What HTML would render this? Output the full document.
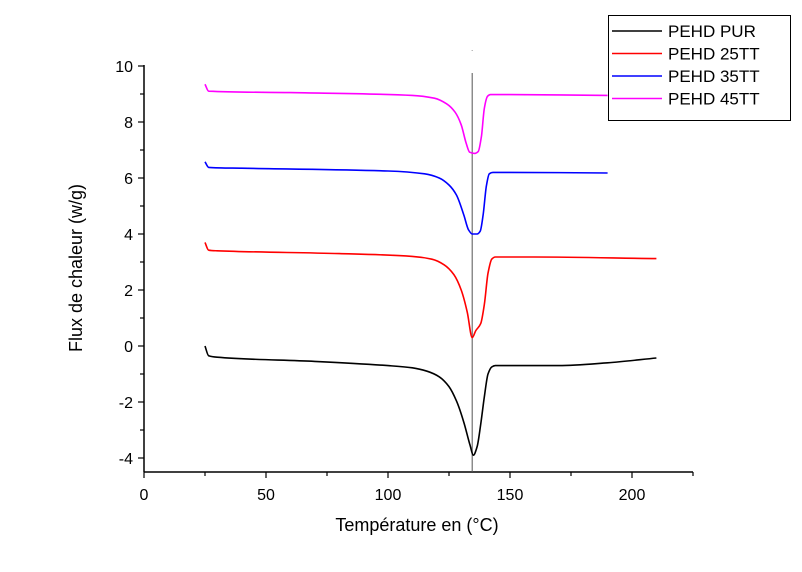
<!DOCTYPE html>
<html><head><meta charset="utf-8"><style>
body{margin:0;background:#fff}
svg text{font-family:"Liberation Sans",Arial,sans-serif}
</style></head><body>
<svg id="chart" width="802" height="567">
<g id="axes"></g><g id="series"></g><g id="legend"></g>
</svg>
<script>
const xTicks=[0,50,100,150,200];
const yTicks=[-4,-2,0,2,4,6,8,10];
const names=["PEHD PUR","PEHD 25TT","PEHD 35TT","PEHD 45TT"];
const colors=["#000000","#ff0000","#0000ff","#ff00ff"];
const tPur=[25,26.5,30,70,100,110,116,121,125,128,131,133.5,135,136.5,138,139.5,141,142.5,144,150,170,190,210];
const vPur=[0,-0.35,-0.4,-0.55,-0.7,-0.78,-0.9,-1.1,-1.45,-1.95,-2.7,-3.5,-3.9,-3.6,-2.8,-1.8,-1.0,-0.75,-0.7,-0.7,-0.7,-0.6,-0.43];
const t25=[25,26.5,30,80,110,118,123,127,130,132.5,134.5,136,138,139.5,141,142.5,144,160,210];
const v25=[3.7,3.42,3.4,3.3,3.2,3.1,2.9,2.55,2.0,1.2,0.3,0.55,0.8,1.5,2.6,3.1,3.18,3.18,3.12];
const t35=[25,26.5,40,100,115,121,125,128,131,133,134.5,136.5,137.8,139,140.3,141.5,143,150,190];
const v35=[6.58,6.38,6.35,6.25,6.15,6.0,5.75,5.4,4.7,4.15,4.0,4.0,4.1,4.7,5.7,6.15,6.2,6.2,6.18];
const t45=[25,26.5,60,110,119,124,127.5,130,132,133.5,135.5,137,138.3,139.5,140.8,142,150,190];
const v45=[9.35,9.1,9.05,8.95,8.85,8.65,8.35,7.9,7.25,6.92,6.88,6.95,7.5,8.5,8.92,8.98,8.98,8.95];
const refT=134.5;

const X=t=>144+t*2.44, Y=v=>346-v*28;
const NS="http://www.w3.org/2000/svg";
function mk(tag,attrs,parent,txt){const e=document.createElementNS(NS,tag);for(const k in attrs)e.setAttribute(k,attrs[k]);if(txt!==undefined)e.textContent=txt;parent.appendChild(e);return e;}
const ax=document.getElementById('axes');
let e=mk('line',{x1:144,y1:472,x2:693,y2:472,stroke:'#000','stroke-width':1.5},ax);


e=mk('line',{x1:144,y1:Y(10)-1,x2:144,y2:472,stroke:'#000','stroke-width':1.5},ax);


for(let t=0;t<=225;t+=25){mk('line',{x1:X(t),y1:472,x2:X(t),y2:t%50==0?478:476,stroke:'#000','stroke-width':1.2},ax);}
xTicks.forEach(t=>{e=mk('text',{x:X(t),y:500,'font-size':16,'text-anchor':'middle'},ax,t);

});
for(let v=-4;v<=10;v+=1){mk('line',{x1:144,y1:Y(v),x2:v%2==0?138:140,y2:Y(v),stroke:'#000','stroke-width':1.2},ax);}
yTicks.forEach(v=>{e=mk('text',{x:133,y:Y(v)+6,'font-size':16,'text-anchor':'end'},ax,v);

});
e=mk('text',{x:417,y:531,'font-size':18,'text-anchor':'middle'},ax,'Température en (°C)');


e=mk('text',{x:0,y:0,'font-size':18,'text-anchor':'middle',transform:'translate(82,268) rotate(-90)'},ax,'Flux de chaleur (w/g)');


e=mk('line',{x1:X(refT),y1:73,x2:X(refT),y2:472,stroke:'#555','stroke-width':1},ax);


mk('rect',{x:X(refT)-0.5,y:50,width:1,height:1,fill:'#999'},ax);

// monotone cubic (Fritsch-Carlson) in x
function smooth(px,py){
 const n=px.length,dx=[],m=[],s=[];
 for(let i=0;i<n-1;i++){dx[i]=px[i+1]-px[i];s[i]=(py[i+1]-py[i])/dx[i];}
 m[0]=s[0];m[n-1]=s[n-2];
 for(let i=1;i<n-1;i++){
  if(s[i-1]*s[i]<=0)m[i]=0;
  else{const w1=2*dx[i]+dx[i-1],w2=dx[i]+2*dx[i-1];m[i]=(w1+w2)/(w1/s[i-1]+w2/s[i]);}
 }
 let d='M'+px[0].toFixed(1)+','+py[0].toFixed(1);
 for(let i=0;i<n-1;i++){
  const h=dx[i]/3;
  d+=' C'+(px[i]+h).toFixed(1)+','+(py[i]+m[i]*h).toFixed(1)+' '+(px[i+1]-h).toFixed(1)+','+(py[i+1]-m[i+1]*h).toFixed(1)+' '+px[i+1].toFixed(1)+','+py[i+1].toFixed(1);
 }
 return d;
}
const sg=document.getElementById('series');
const data=[[tPur,vPur],[t25,v25],[t35,v35],[t45,v45]];
const keys=['pur','25tt','35tt','45tt'];
data.forEach((d,i)=>{
 const p=mk('path',{d:smooth(d[0].map(X),d[1].map(Y)),fill:'none',stroke:colors[i],'stroke-width':1.6,'stroke-linejoin':'round'},sg);
 
 
});
const lg=document.getElementById('legend');
e=mk('rect',{x:608.5,y:15.5,width:182,height:105,fill:'#fff',stroke:'#000','stroke-width':1},lg);


names.forEach((n,i)=>{const y=31+i*22.5;
 mk('line',{x1:612,y1:y,x2:662,y2:y,stroke:colors[i],'stroke-width':1.6},lg);
 const t=mk('text',{x:668,y:y+6,'font-size':17},lg,n);
 
 
});
</script>
</body></html>
